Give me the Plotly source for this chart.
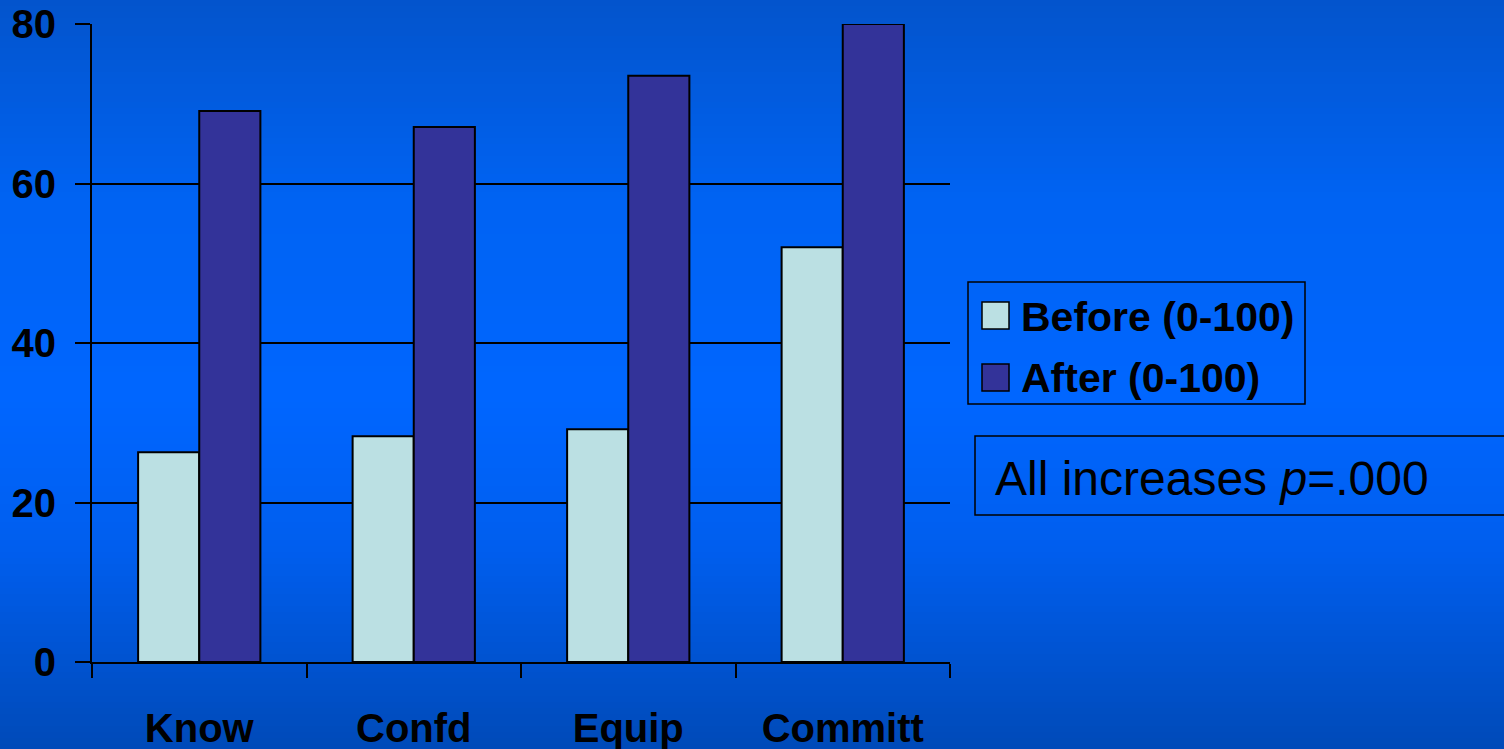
import plotly.graph_objects as go

categories = ["Know", "Confd", "Equip", "Committ"]
before = [26.3, 28.3, 29.2, 52.0]
after = [69.1, 67.1, 73.5, 80.0]
series_names = ["Before (0-100)", "After (0-100)"]
y_ticks = [0, 20, 40, 60, 80]

W, H = 1504, 749
L, R, T, B = 92, 950, 24, 662


def X(px):
    return (px - L) / (R - L)


def Y(py):
    return (B - py) / (B - T)


FONT = "Arial, 'Liberation Sans', sans-serif"

fig = go.Figure()
fig.add_trace(go.Bar(x=categories, y=before, name=series_names[0],
                     marker=dict(color="#BBE0E3", line=dict(color="black", width=2))))
fig.add_trace(go.Bar(x=categories, y=after, name=series_names[1],
                     marker=dict(color="#333399", line=dict(color="black", width=2))))

shapes = []
# vertical background gradient
stops = [(0, (3, 84, 204)), (200, (0, 99, 243)), (400, (0, 102, 255)),
         (550, (0, 94, 238)), (749, (0, 74, 184))]


def col(py):
    for (y0, c0), (y1, c1) in zip(stops[:-1], stops[1:]):
        if y0 <= py <= y1:
            t = (py - y0) / (y1 - y0)
            return "rgb(%d,%d,%d)" % tuple(round(a + (b - a) * t) for a, b in zip(c0, c1))
    return "rgb(0,74,184)"


step = 6
for py in range(0, H + step, step):
    shapes.append(dict(type="rect", xref="paper", yref="paper", layer="below",
                       x0=X(-5), x1=X(W + 5), y0=Y(py + step + 0.5), y1=Y(py),
                       fillcolor=col(py + step / 2), line=dict(width=0)))

# legend box
shapes.append(dict(type="rect", xref="paper", yref="paper", x0=X(968), x1=X(1305),
                   y0=Y(404), y1=Y(282), line=dict(color="black", width=1.5)))
shapes.append(dict(type="rect", xref="paper", yref="paper", x0=X(982), x1=X(1009),
                   y0=Y(329), y1=Y(302), fillcolor="#BBE0E3", line=dict(color="black", width=1.5)))
shapes.append(dict(type="rect", xref="paper", yref="paper", x0=X(982), x1=X(1009),
                   y0=Y(391), y1=Y(364), fillcolor="#333399", line=dict(color="black", width=1.5)))
# p-value box
shapes.append(dict(type="rect", xref="paper", yref="paper", x0=X(975), x1=X(1515),
                   y0=Y(515), y1=Y(436), line=dict(color="black", width=1.5)))

annotations = [
    dict(xref="paper", yref="paper", x=X(1019), y=Y(317), xanchor="left", yanchor="middle",
         text=series_names[0], showarrow=False,
         font=dict(family=FONT, size=41, color="black", weight="bold")),
    dict(xref="paper", yref="paper", x=X(1019), y=Y(378), xanchor="left", yanchor="middle",
         text=series_names[1], showarrow=False,
         font=dict(family=FONT, size=41, color="black", weight="bold")),
    dict(xref="paper", yref="paper", x=X(993), y=Y(478), xanchor="left", yanchor="middle",
         text="All increases <i>p</i>=.000", showarrow=False,
         font=dict(family=FONT, size=48, color="black")),
]

fig.update_layout(
    width=W, height=H,
    margin=dict(l=L, r=W - R, t=T, b=H - B, pad=0, autoexpand=False),
    paper_bgcolor="#0060F0",
    plot_bgcolor="rgba(0,0,0,0)",
    barmode="group", bargap=0.43, bargroupgap=0,
    showlegend=False,
    shapes=shapes,
    annotations=annotations,
    font=dict(family=FONT, color="black"),
)
fig.update_xaxes(
    type="category", tickson="boundaries", ticks="outside", ticklen=14, tickwidth=2,
    tickcolor="black", showline=True, linecolor="black", linewidth=2,
    showgrid=False, ticklabelstandoff=30, automargin=False,
    tickfont=dict(family=FONT, size=40, color="black", weight="bold"),
)
fig.update_yaxes(
    range=[0, 80], tickvals=y_ticks, ticks="outside", ticklen=15, tickwidth=2,
    tickcolor="black", showline=True, linecolor="black", linewidth=2,
    showgrid=True, gridcolor="black", gridwidth=2, zeroline=False,
    ticklabelstandoff=11, automargin=False,
    tickfont=dict(family=FONT, size=40, color="black", weight="bold"),
)

fig.write_html("out.html")
